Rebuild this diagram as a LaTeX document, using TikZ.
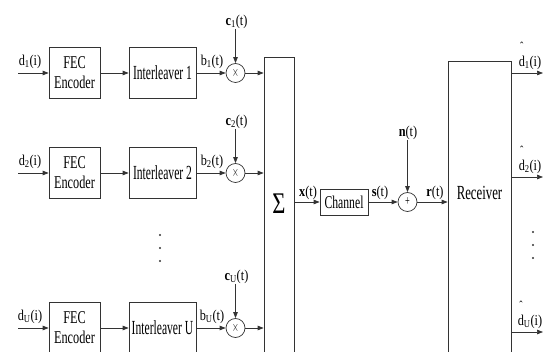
\documentclass[tikz,border=0pt]{standalone}
\usepackage{fontspec}
\setmainfont{Liberation Serif}
\usetikzlibrary{arrows.meta}
\newcommand{\sq}[1]{\scalebox{0.6}[1]{#1}}
\newcommand{\labsq}[1]{\scalebox{0.82}[1]{#1}}
\newcommand{\hatd}[1]{\rlap{\makebox[0.5em]{\smash{\raisebox{16.5pt}{\fontsize{12}{12}\selectfont\char"02C6}}}}d\textsubscript{#1}(i)}
\tikzset{
  ln/.style={draw=black!80, line width=0.7pt},
  arr/.style={ln, -{Triangle[length=6pt,width=4.5pt]}},
  blk/.style={ln, rectangle, inner sep=0pt, align=center, font=\fontsize{20}{20}\selectfont},
  fecb/.style={blk, font=\fontsize{18}{20}\selectfont},
  mult/.style={ln, circle, minimum size=19pt, inner sep=0pt, font=\fontsize{14}{14}\selectfont},
  lab/.style={inner sep=0pt, font=\fontsize{15}{16}\selectfont},
}
\begin{document}
\begin{tikzpicture}[x=1pt,y=-1pt]
\useasboundingbox (0,0) rectangle (543,352);
\clip (0,0) rectangle (543,352);
% rows
\foreach \r/\y/\n in {1/73/1, 2/173/2, U/328/U}{
  \coordinate (in\r) at (18,\y);
  \node[fecb, minimum width=51pt, minimum height=51pt] (fec\r) at (74.5,\y) {\scalebox{0.68}[1]{FEC}\\\scalebox{0.68}[1]{Encoder}};
  \node[blk, minimum width=67pt, minimum height=51pt] (int\r) at (162.5,\y) {\scalebox{0.58}[1]{Interleaver \n}};
  \node[mult] (m\r) at (235.5,\y) {\sq{$\times$}};
  \node[lab] (dl\r) at (30,\y-11) {\labsq{d\textsubscript{\n}(i)}};
  \node[lab] (bl\r) at (212,\y-11) {\labsq{b\textsubscript{\n}(t)}};
  \node[lab] (cl\r) at (236.5,\y-51) {\labsq{\textbf{c}\textsubscript{\n}(t)}};
}
\node[blk, minimum width=30pt, minimum height=300pt, anchor=north] (sum) at (279,57) {};
\node[inner sep=0pt, font=\fontsize{30}{30}\selectfont] (sig) at (279,204) {\scalebox{0.75}[1]{Σ}};
\node[blk, minimum width=63pt, minimum height=300pt, anchor=north,
      label={[yshift=-142pt, font=\fontsize{20}{20}\selectfont]north:\scalebox{0.64}[1]{Receiver}}] (rec) at (479.5,61) {};
\node[blk, minimum width=48pt, minimum height=26pt] (ch) at (344,202) {\scalebox{0.65}[1]{\fontsize{18}{18}\selectfont Channel}};
\node[mult] (pl) at (407.5,202) {\sq{+}};
\node[lab] (xl) at (308,193) {\labsq{\textbf{x}(t)}};
\node[lab] (sl) at (380,193) {\labsq{\textbf{s}(t)}};
\node[lab] (rl) at (435,193) {\labsq{\textbf{r}(t)}};
\node[lab] (nl) at (408,133) {\labsq{\textbf{n}(t)}};
% outputs
\coordinate (o1) at (543,73);
\coordinate (o2) at (543,177);
\coordinate (oU) at (543,332);
\node[lab] (h1) at (530,63) {\labsq{\hatd{1}}};
\node[lab] (h2) at (530,167) {\labsq{\hatd{2}}};
\node[lab] (hU) at (530,322) {\labsq{\hatd{U}}};
% connectors
\foreach \r in {1,2,U}{
  \draw[arr] (in\r) -- (fec\r);
  \draw[arr] (fec\r) -- (int\r);
  \draw[arr] (int\r) -- (m\r);
  \draw[arr] (m\r) -- (m\r -| sum.west);
  \draw[arr] (cl\r.south -| m\r) -- (m\r);
}
\draw[arr] (sum.east |- ch) -- (ch);
\draw[arr] (ch) -- (pl);
\draw[arr] (pl) -- (pl -| rec.west);
\draw[arr] (nl.south -| pl) -- (pl);
\draw[arr] (o1 -| rec.east) -- (o1);
\draw[arr] (o2 -| rec.east) -- (o2);
\draw[arr] (oU -| rec.east) -- (oU);
% dots
\foreach \yy in {235,248,261} \fill[black!80] (160,\yy) circle (1.2pt);
\foreach \yy in {232,245,258} \fill[black!80] (533,\yy) circle (1.2pt);
\end{tikzpicture}
\end{document}
